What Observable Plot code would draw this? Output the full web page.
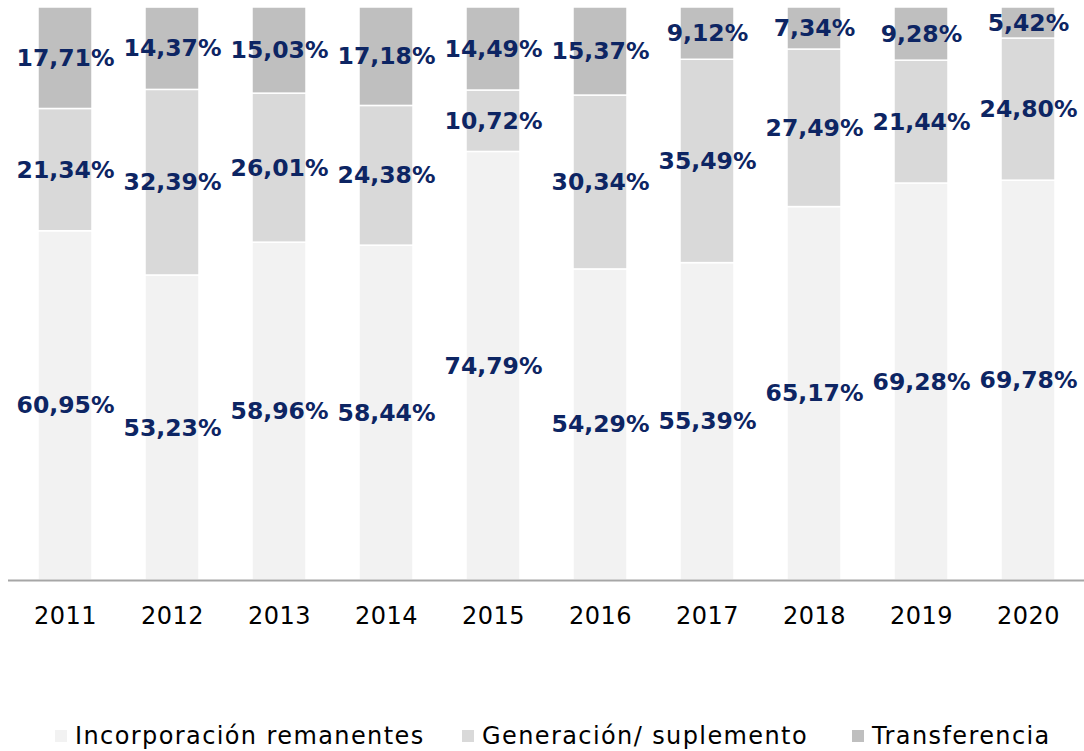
<!DOCTYPE html>
<html>
<head>
<meta charset="utf-8">
<script src="https://cdn.jsdelivr.net/npm/d3@7"></script>
<script src="https://cdn.jsdelivr.net/npm/@observablehq/plot@0.6"></script>
<style>
  html, body { margin: 0; padding: 0; background: #fff; }
  #chart svg { display: block; }
  #legend { position: relative; height: 101px; font-family: "DejaVu Sans", sans-serif; font-size: 24px; letter-spacing: 1.4px; color: #000; }
  .item { position: absolute; top: 72px; display: flex; align-items: center; white-space: nowrap; }
  .sw { width: 12px; height: 12px; margin-right: 8px; }
</style>
</head>
<body>
<div id="chart"></div>
<div id="legend"></div>
<script>
const years = ["2011","2012","2013","2014","2015","2016","2017","2018","2019","2020"];
const seriesNames = ["Incorporación remanentes", "Generación/ suplemento", "Transferencia"];
const incorporacion = [60.95, 53.23, 58.96, 58.44, 74.79, 54.29, 55.39, 65.17, 69.28, 69.78];
const generacion = [21.34, 32.39, 26.01, 24.38, 10.72, 30.34, 35.49, 27.49, 21.44, 24.80];
const transferencia = [17.71, 14.37, 15.03, 17.18, 14.49, 15.37, 9.12, 7.34, 9.28, 5.42];
const colors = ["#f2f2f2", "#d9d9d9", "#bfbfbf"];

const seriesValues = [incorporacion, generacion, transferencia];
const data = [];
seriesNames.forEach((s, i) => years.forEach((y, j) => data.push({year: y, series: s, value: seriesValues[i][j]})));

const fmt = v => d3.format(".2f")(v).replace(".", ",") + "%";

const chart = Plot.plot({
  width: 1084,
  height: 650,
  marginTop: 7,
  marginBottom: 70,
  marginLeft: 8,
  marginRight: 0,
  style: {fontFamily: "DejaVu Sans, sans-serif", background: "#fff"},
  x: {domain: years, paddingInner: 0.5, paddingOuter: 0.25, label: null, tickSize: 0, tickPadding: 26},
  y: {domain: [0, 100], axis: null},
  color: {domain: seriesNames, range: colors},
  marks: [
    Plot.barY(data, Plot.stackY({x: "year", y: "value", z: "series", order: seriesNames, fill: "series", stroke: "#fff", strokeWidth: 1.5})),
    Plot.ruleY([0], {stroke: "#a6a6a6", strokeWidth: 2}),
    Plot.text(data, Plot.stackY({x: "year", y: "value", z: "series", order: seriesNames, text: d => fmt(d.value), fill: "#0d2563", fontWeight: "bold", fontSize: 23.5}))
  ]
});
const xl = chart.querySelector("g[aria-label='x-axis tick label']");
if (xl) { xl.setAttribute("font-size", "24"); xl.setAttribute("fill", "#000"); xl.setAttribute("letter-spacing", "0.5"); }
document.getElementById("chart").appendChild(chart);

const legend = document.getElementById("legend");
const lefts = [55, 462, 852];
seriesNames.forEach((s, i) => {
  const it = document.createElement("div");
  it.className = "item";
  it.style.left = lefts[i] + "px";
  const sw = document.createElement("span");
  sw.className = "sw";
  sw.style.background = colors[i];
  const t = document.createElement("span");
  t.textContent = s;
  it.appendChild(sw); it.appendChild(t);
  legend.appendChild(it);
});
</script>
</body>
</html>
